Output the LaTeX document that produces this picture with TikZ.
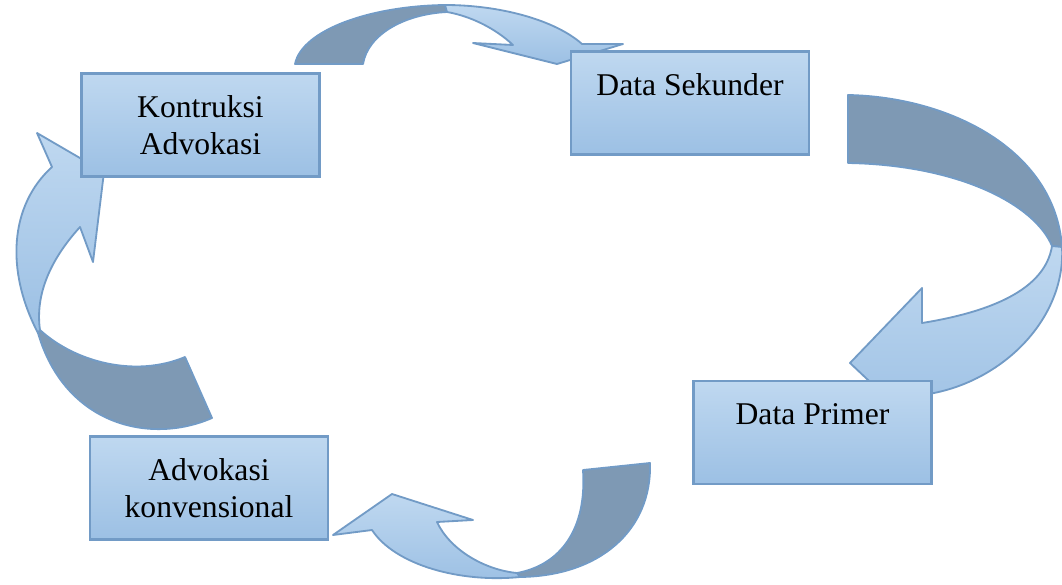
\documentclass[tikz,border=0pt]{standalone}
\usepackage{fontspec}
\setmainfont{Liberation Serif}

\definecolor{boxtop}{RGB}{191,216,240}
\definecolor{boxbottom}{RGB}{156,192,228}
\definecolor{boxline}{RGB}{114,155,198}
\definecolor{backblue}{RGB}{126,153,180}

\begin{document}
\begin{tikzpicture}[
    x=0.025cm, y=-0.025cm,
    stage/.style={rectangle, draw=boxline, line width=2pt, top color=boxtop, bottom color=boxbottom, align=center, minimum width=5.95cm, minimum height=2.575cm, font=\rmfamily\fontsize{22.5}{26.2}\selectfont},
    backpart/.style={fill=backblue, draw=boxline, line width=1.3pt, line join=round},
    frontpart/.style={top color=boxtop, bottom color=boxbottom, draw=boxline, line width=1.3pt, line join=round}
]
\useasboundingbox (0,0) rectangle (1062,584);

% Top arrow
\draw[backpart] (295,64) .. controls (302,30) and (370,6) .. (445,5) -- (447,12) .. controls (405,14) and (368,34) .. (363,64) -- cycle;
\draw[frontpart] (445,5) .. controls (500,5) and (555,20) .. (582,44) -- (623,44) -- (557,64) -- (473,43) -- (513,45) .. controls (495,28) and (470,16) .. (447,12) -- cycle;

% Right arrow
\draw[backpart] (848,95) .. controls (950,97) and (1055,150) .. (1062,247) -- (1052,246) .. controls (1035,205) and (960,165) .. (848,163) -- cycle;
\draw[frontpart] (1062,247) .. controls (1066,320) and (1000,385) .. (922,395) -- (922,431) -- (850,363) -- (922,288) -- (922,323) .. controls (990,312) and (1045,290) .. (1052,246) -- cycle;

% Bottom arrow
\draw[backpart] (583,470) -- (650,463) .. controls (652,530) and (600,576) .. (520,577) -- (517,573) .. controls (560,565) and (587,530) .. (583,470) -- cycle;
\draw[frontpart] (520,577) .. controls (460,583) and (395,565) .. (372,530) -- (333,535) -- (392,494) -- (473,520) -- (437,522) .. controls (450,550) and (485,570) .. (517,573) -- cycle;

% Left arrow
\draw[backpart] (185,357) -- (212,418) .. controls (150,445) and (65,425) .. (38,333) -- (40,330) .. controls (75,362) and (135,378) .. (185,357) -- cycle;
\draw[frontpart] (38,333) .. controls (5,270) and (10,205) .. (52,167) -- (37,133) -- (104,172) -- (93,262) -- (80,227) .. controls (50,260) and (35,295) .. (40,330) -- cycle;

% Stages
\node[stage] (kontruksi) at (200.5,125) {Kontruksi\\Advokasi};
\node[stage] (sekunder) at (690,103) {Data Sekunder\\\mbox{}};
\node[stage] (primer) at (812.5,432.5) {Data Primer\\\mbox{}};
\node[stage] (konvensional) at (209,488) {Advokasi\\konvensional};

\end{tikzpicture}
\end{document}
